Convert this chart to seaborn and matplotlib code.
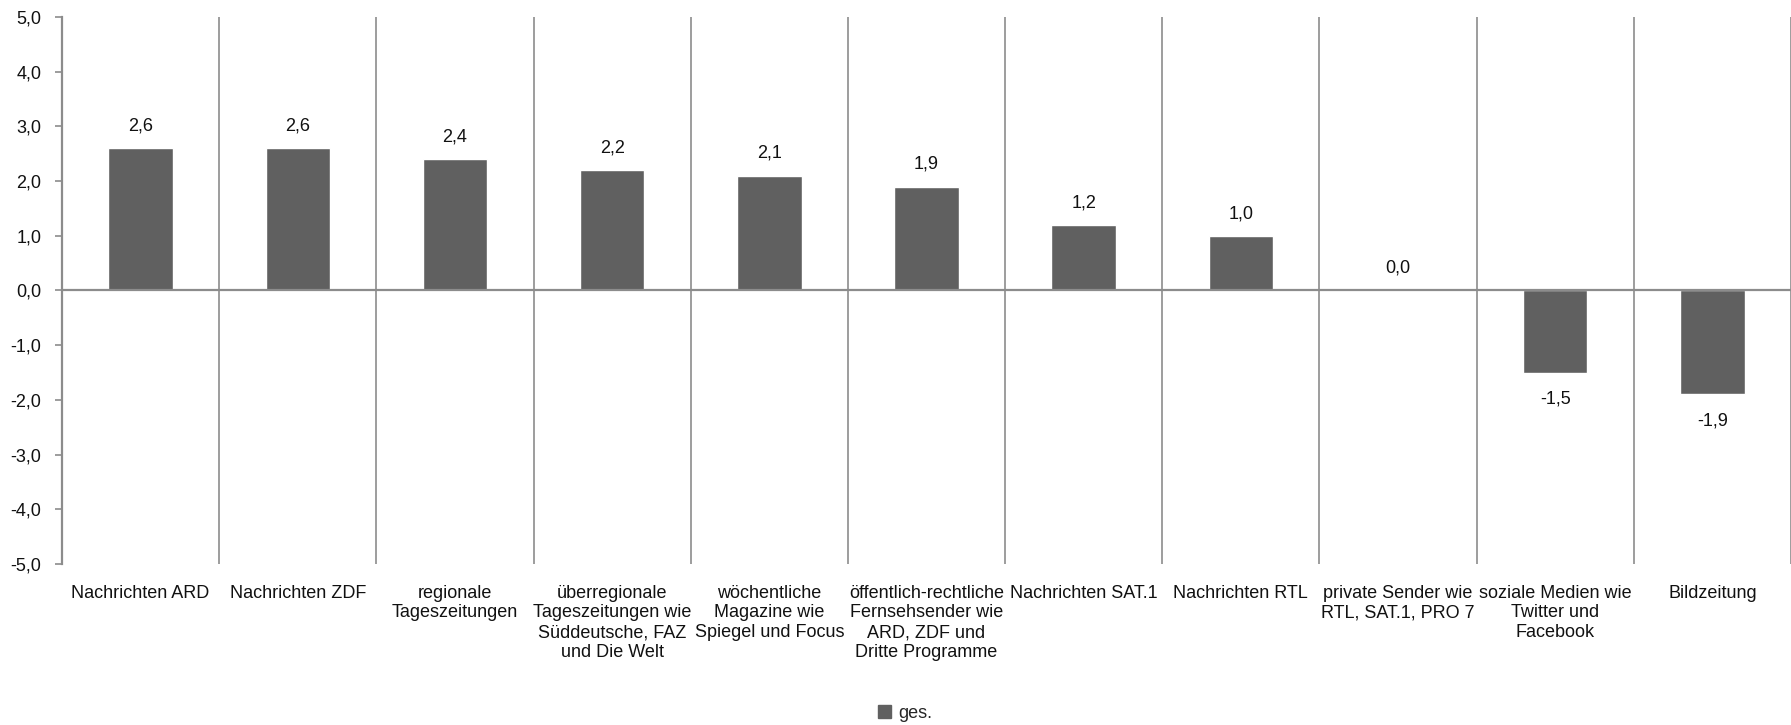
import matplotlib
matplotlib.use("Agg")
import matplotlib.pyplot as plt
import seaborn as sns
import pandas as pd
from matplotlib.patches import Patch

categories = [
    "Nachrichten ARD",
    "Nachrichten ZDF",
    "regionale\nTageszeitungen",
    "überregionale\nTageszeitungen wie\nSüddeutsche, FAZ\nund Die Welt",
    "wöchentliche\nMagazine wie\nSpiegel und Focus",
    "öffentlich-rechtliche\nFernsehsender wie\nARD, ZDF und\nDritte Programme",
    "Nachrichten SAT.1",
    "Nachrichten RTL",
    "private Sender wie\nRTL, SAT.1, PRO 7",
    "soziale Medien wie\nTwitter und\nFacebook",
    "Bildzeitung",
]
values = [2.6, 2.6, 2.4, 2.2, 2.1, 1.9, 1.2, 1.0, 0.0, -1.5, -1.9]
series_name = "ges."
yticks = [-5, -4, -3, -2, -1, 0, 1, 2, 3, 4, 5]

sns.set_style("white")
plt.rcParams["font.family"] = ["Liberation Sans Narrow", "Liberation Sans", "DejaVu Sans"]

bar_color = "#606060"
line_color = "#8c8c8c"
fs = 13

df = pd.DataFrame({"cat": categories, "val": values})

fig = plt.figure(figsize=(17.91, 7.25), dpi=100)
ax = fig.add_axes([62 / 1791, 1 - 564 / 725, 1 - 62 / 1791, (564 - 17) / 725])

sns.barplot(data=df, x="cat", y="val", color=bar_color, width=0.41,
            saturation=1, ax=ax, zorder=3)

ax.set_xlim(-0.5, len(categories) - 0.5)
ax.set_ylim(-5, 5)
ax.set_yticks(yticks)
ax.set_yticklabels([f"{v:.1f}".replace(".", ",") for v in yticks], fontsize=fs)
ax.set_xlabel("")
ax.set_ylabel("")

# separators
for i in range(len(categories)):
    ax.axvline(i + 0.5, color=line_color, lw=1.2, zorder=1)
ax.axhline(0, color=line_color, lw=1.6, zorder=4)

for s in ["top", "right", "bottom"]:
    ax.spines[s].set_visible(False)
ax.spines["left"].set_color(line_color)
ax.spines["left"].set_linewidth(1.6)
ax.tick_params(axis="y", direction="out", length=5, width=1.2, color=line_color,
               left=True, pad=10, labelcolor="#111111")
ax.tick_params(axis="x", length=0, pad=15, labelcolor="#111111")
for lab in ax.get_xticklabels():
    lab.set_fontsize(fs)
    lab.set_linespacing(1.2)
    lab.set_verticalalignment("top")
    lab.set_horizontalalignment("center")

# value labels
for i, v in enumerate(values):
    txt = f"{v:.1f}".replace(".", ",")
    off = 16 if v >= 0 else -19
    ax.annotate(txt, (i, v), xytext=(0, off), textcoords="offset points",
                ha="center", va="center", fontsize=fs, color="#111111")

handle = Patch(facecolor=bar_color, edgecolor=bar_color)
fig.legend([handle], [series_name], loc="center",
           bbox_to_anchor=(905 / 1791, 1 - 713 / 725), frameon=False,
           fontsize=fs, handlelength=0.7, handleheight=0.7, handletextpad=0.4)

fig.savefig("out.png", dpi=100)
